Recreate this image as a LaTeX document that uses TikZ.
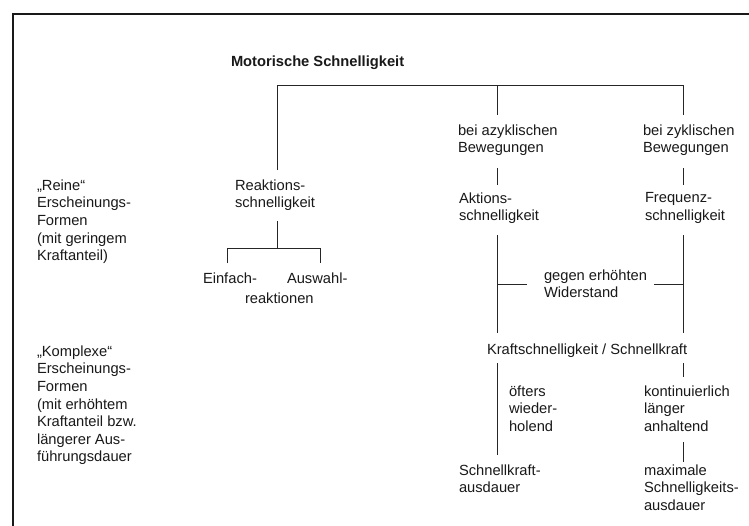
\documentclass[tikz,border=0pt]{standalone}
\usepackage{fontspec}
\setmainfont{Liberation Sans}
\newcommand\lblfont{\fontsize{14.7}{17.6}\selectfont}
\tikzset{
  lbl/.style={anchor=north west, inner sep=0pt, outer sep=0pt, align=left, font=\lblfont, text=black!90, execute at begin node=\strut},
  ttl/.style={lbl, font=\lblfont\bfseries},
  conn/.style={draw=black!85, line width=1pt},
  frame/.style={draw=black!90, line width=1.6pt}
}
\begin{document}
\begin{tikzpicture}[x=1pt,y=-1pt]
\path[fill=white] (0,0) rectangle (749,525);
\useasboundingbox (0,0) rectangle (749,525);
% frame
\coordinate (fb) at (13,526);
\coordinate (fc) at (13,14);
\coordinate (fr) at (750,14);
\draw[frame] (fb) -- (fc) -- (fr);

% texts
\node[ttl] (title) at (231,53.7) {Motorische Schnelligkeit};
\node[lbl] (reine) at (37,179.7) {„Reine“\\Erscheinungs-\\Formen\\(mit geringem\\Kraftanteil)};
\node[lbl] (komplex) at (37,345.7) {„Komplexe“\\Erscheinungs-\\Formen\\(mit erhöhtem\\Kraftanteil bzw.\\längerer Aus-\\führungsdauer};
\node[lbl] (reak) at (235,179.7) {Reaktions-\\schnelligkeit};
\node[lbl] (einf) at (203,271.2) {Einfach-};
\node[lbl] (ausw) at (287,271.2) {Auswahl-};
\node[lbl] (reakt) at (245,291.2) {reaktionen};
\node[lbl] (azyk) at (458,124.7) {bei azyklischen\\Bewegungen};
\node[lbl] (zyk) at (643,124.7) {bei zyklischen\\Bewegungen};
\node[lbl] (akt) at (459,192.7) {Aktions-\\schnelligkeit};
\node[lbl] (freq) at (645,192.7) {Frequenz-\\schnelligkeit};
\node[lbl] (gegen) at (544,269.7) {gegen erhöhten\\Widerstand};
\node[lbl] (kraft) at (487,341.7) {Kraftschnelligkeit / Schnellkraft};
\node[lbl] (oft) at (509,385.7) {öfters\\wieder-\\holend};
\node[lbl] (kont) at (644,385.7) {kontinuierlich\\länger\\anhaltend};
\node[lbl] (skaus) at (459,464.7) {Schnellkraft-\\ausdauer};
\node[lbl] (maxs) at (644,464.7) {maximale\\Schnelligkeits-\\ausdauer};

% connector coordinates
\coordinate (t1) at (277,85);
\coordinate (t2) at (497,85);
\coordinate (t3) at (683,85);
\coordinate (t1b) at (277,170);
\coordinate (t2b) at (497,115);
\coordinate (t3b) at (683,115);
\coordinate (r1) at (277,221);
\coordinate (r2) at (277,248);
\coordinate (r3) at (227,248);
\coordinate (r4) at (320,248);
\coordinate (r3b) at (227,263);
\coordinate (r4b) at (320,263);
\coordinate (a1) at (497,168);
\coordinate (a2) at (497,185);
\coordinate (z1) at (683,168);
\coordinate (z2) at (683,185);
\coordinate (a3) at (497,235);
\coordinate (a4) at (497,333);
\coordinate (z3) at (683,235);
\coordinate (z4) at (683,333);
\coordinate (g1) at (497,284);
\coordinate (g2) at (527,284);
\coordinate (g3) at (654,284);
\coordinate (g4) at (683,284);
\coordinate (k1) at (497,363);
\coordinate (k2) at (497,455);
\coordinate (k3) at (683,363);
\coordinate (k4) at (683,377);
\coordinate (k5) at (683,442);
\coordinate (k6) at (683,462);

\draw[conn] (t1b) -- (t1) -- (t3) -- (t3b);
\draw[conn] (t2) -- (t2b);
\draw[conn] (r1) -- (r2);
\draw[conn] (r3b) -- (r3) -- (r4) -- (r4b);
\draw[conn] (a1) -- (a2);
\draw[conn] (z1) -- (z2);
\draw[conn] (a3) -- (a4);
\draw[conn] (z3) -- (z4);
\draw[conn] (g1) -- (g2);
\draw[conn] (g3) -- (g4);
\draw[conn] (k1) -- (k2);
\draw[conn] (k3) -- (k4);
\draw[conn] (k5) -- (k6);
\end{tikzpicture}
\end{document}
